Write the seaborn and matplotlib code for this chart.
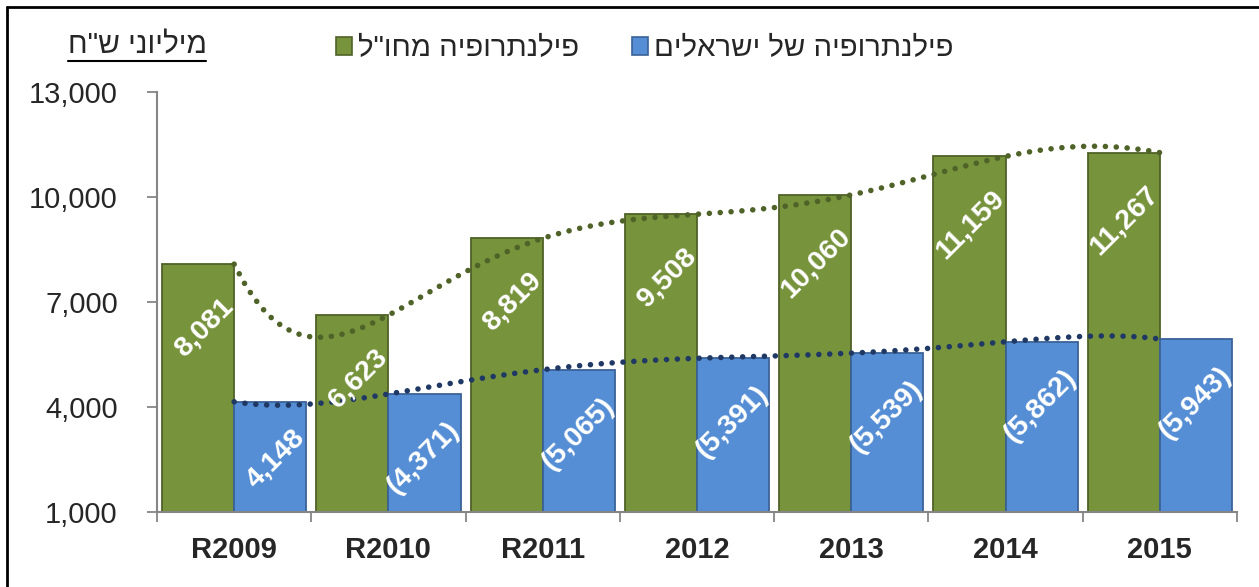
import numpy as np
import pandas as pd
import matplotlib
matplotlib.use('Agg')
import matplotlib.pyplot as plt
from matplotlib.patches import Patch
from matplotlib.lines import Line2D
from matplotlib.ticker import FuncFormatter, FixedLocator
import seaborn as sns

# ----------------------------------------------------------------------
# Data (millions of NIS)
# ----------------------------------------------------------------------
years = ['R2009', 'R2010', 'R2011', '2012', '2013', '2014', '2015']
abroad = [8081, 6623, 8819, 9508, 10060, 11159, 11267]
israeli = [4148, 4371, 5065, 5391, 5539, 5862, 5943]
abroad_labels = ['8,081', '6,623', '8,819', '9,508', '10,060', '11,159', '11,267']
israeli_labels = ['4,148', '(4,371)', '(5,065)', '(5,391)', '(5,539)', '(5,862)', '(5,943)']
series_names = ['פילנתרופיה מחו"ל', 'פילנתרופיה של ישראלים']
unit_label = 'מיליוני ש"ח'
y_ticks = [1000, 4000, 7000, 10000, 13000]

GREEN, GREEN_EDGE, GREEN_TREND = '#77933C', '#4F6228', '#4F6228'
BLUE, BLUE_EDGE, BLUE_TREND = '#558ED5', '#3A6296', '#1F3864'
AXIS_GRAY = '#868686'


def rtl(s):
    # matplotlib has no bidi support: feed Hebrew in visual order
    return s[::-1]


sns.set_style('white')
plt.rcParams['font.family'] = ['Liberation Sans', 'DejaVu Sans']

df = pd.DataFrame({
    'year': years * 2,
    'value': abroad + israeli,
    'series': [series_names[0]] * len(years) + [series_names[1]] * len(years),
})

fig = plt.figure(figsize=(12.59, 5.87), dpi=100)
ax = fig.add_axes([0.1247, 0.1278, 0.8578, 0.7155])

sns.barplot(data=df, x='year', y='value', hue='series', hue_order=series_names,
            order=years, palette=[GREEN, BLUE], saturation=1, width=0.935,
            legend=False, ax=ax, zorder=2)

for cont, edge in zip(ax.containers, [GREEN_EDGE, BLUE_EDGE]):
    for bar in cont:
        bar.set_edgecolor(edge)
        bar.set_linewidth(1.3)

# polynomial (order 6) dotted trendlines through the category centres
pos = np.arange(len(years))
for vals, col in [(abroad, GREEN_TREND), (israeli, BLUE_TREND)]:
    sns.regplot(x=pos, y=np.array(vals, dtype=float), order=6, ci=None,
                scatter=False, ax=ax, truncate=True,
                line_kws=dict(color=col, lw=4.0, linestyle=(0, (0.01, 1.95)),
                              dash_capstyle='round', zorder=3))

# rotated value labels inside the bars
for cont, labels, dy in zip(ax.containers, [abroad_labels, israeli_labels], [-38, -32]):
    for bar, lab in zip(cont, labels):
        ax.annotate(lab, xy=(bar.get_x() + bar.get_width(), bar.get_height()),
                    xytext=(-5, dy), textcoords='offset pixels',
                    rotation=45, rotation_mode='anchor', ha='right', va='center',
                    color='white', fontsize=20.5, fontweight='bold', zorder=4)

ax.set_xlim(-0.5, len(years) - 0.5)
ax.set_ylim(y_ticks[0], y_ticks[-1])
ax.set_yticks(y_ticks)
ax.yaxis.set_major_formatter(FuncFormatter(lambda v, p: f'{v:,.0f}'))
ax.set_xticks(pos)
ax.set_xticklabels(years, fontweight='bold')
ax.xaxis.set_minor_locator(FixedLocator(np.arange(len(years) + 1) - 0.5))
ax.set_xlabel('')
ax.set_ylabel('')

ax.tick_params(axis='y', which='major', left=True, length=7.2, width=1.3,
               color=AXIS_GRAY, labelsize=21, pad=21)
ax.tick_params(axis='x', which='major', bottom=True, length=0, labelsize=21, pad=17)
ax.tick_params(axis='x', which='minor', bottom=True, length=7.2, width=1.3,
               color=AXIS_GRAY)

sns.despine(ax=ax)
for side in ['left', 'bottom']:
    ax.spines[side].set_color(AXIS_GRAY)
    ax.spines[side].set_linewidth(1.5)

# legend at the top
handles = [Patch(facecolor=GREEN, edgecolor=GREEN_EDGE, lw=1.2, label=rtl(series_names[0])),
           Patch(facecolor=BLUE, edgecolor=BLUE_EDGE, lw=1.2, label=rtl(series_names[1]))]
fig.legend(handles=handles, loc='center', bbox_to_anchor=(0.512, 0.918), ncol=2,
           frameon=False, fontsize=21.2, handlelength=0.55, handleheight=0.55,
           handletextpad=0.2, columnspacing=1.8)

# underlined unit label at the top left
unit = fig.text(137 / 1259, 1 - 45 / 587, rtl(unit_label), ha='center', va='center',
                fontsize=21.5)
fig.canvas.draw()
bb = unit.get_window_extent().transformed(fig.transFigure.inverted())
fig.add_artist(Line2D([bb.x0, bb.x1], [bb.y0 - 0.004, bb.y0 - 0.004],
                      color='black', lw=1.5, transform=fig.transFigure))

# frame line on the top and left edges (chart is cropped from a boxed figure)
fig.add_artist(Line2D([7 / 1259, 7 / 1259], [0, 1 - 7 / 587], color='black', lw=2,
                      transform=fig.transFigure))
fig.add_artist(Line2D([7 / 1259, 1], [1 - 7 / 587, 1 - 7 / 587], color='black', lw=2,
                      transform=fig.transFigure))

fig.savefig('out.png', dpi=100)
